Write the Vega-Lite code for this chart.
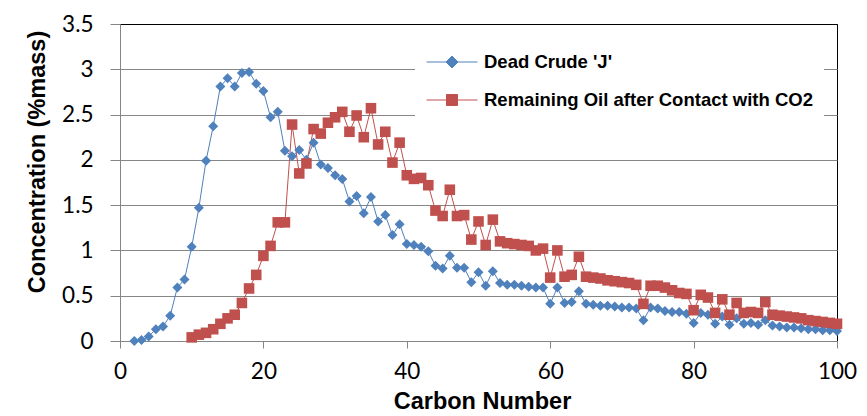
{
  "$schema": "https://vega.github.io/schema/vega-lite/v6.json",
  "width": 717,
  "height": 317,
  "autosize": {"type": "none"},
  "padding": {"left": 120, "top": 24, "right": 30, "bottom": 75},
  "background": "white",
  "config": {
    "view": {"stroke": "black", "strokeWidth": 1},
    "axis": {
      "domainColor": "#868686",
      "tickColor": "#868686",
      "labelColor": "black",
      "labelFont": "Lato",
      "labelFontSize": 22.5,
      "titleFont": "Liberation Sans",
      "titleFontSize": 23.5,
      "titleFontWeight": "bold",
      "titleColor": "black"
    }
  },
  "data": {
    "values": [
      {"c": 2, "s": "Dead Crude 'J'", "v": 0.0},
      {"c": 3, "s": "Dead Crude 'J'", "v": 0.01},
      {"c": 4, "s": "Dead Crude 'J'", "v": 0.05},
      {"c": 5, "s": "Dead Crude 'J'", "v": 0.13},
      {"c": 6, "s": "Dead Crude 'J'", "v": 0.16},
      {"c": 7, "s": "Dead Crude 'J'", "v": 0.28},
      {"c": 8, "s": "Dead Crude 'J'", "v": 0.59},
      {"c": 9, "s": "Dead Crude 'J'", "v": 0.68},
      {"c": 10, "s": "Dead Crude 'J'", "v": 1.04},
      {"c": 11, "s": "Dead Crude 'J'", "v": 1.47},
      {"c": 12, "s": "Dead Crude 'J'", "v": 1.99},
      {"c": 13, "s": "Dead Crude 'J'", "v": 2.37},
      {"c": 14, "s": "Dead Crude 'J'", "v": 2.81},
      {"c": 15, "s": "Dead Crude 'J'", "v": 2.9},
      {"c": 16, "s": "Dead Crude 'J'", "v": 2.81},
      {"c": 17, "s": "Dead Crude 'J'", "v": 2.96},
      {"c": 18, "s": "Dead Crude 'J'", "v": 2.97},
      {"c": 19, "s": "Dead Crude 'J'", "v": 2.84},
      {"c": 20, "s": "Dead Crude 'J'", "v": 2.76},
      {"c": 21, "s": "Dead Crude 'J'", "v": 2.47},
      {"c": 22, "s": "Dead Crude 'J'", "v": 2.53},
      {"c": 23, "s": "Dead Crude 'J'", "v": 2.1},
      {"c": 24, "s": "Dead Crude 'J'", "v": 2.04},
      {"c": 25, "s": "Dead Crude 'J'", "v": 2.11},
      {"c": 26, "s": "Dead Crude 'J'", "v": 2.0},
      {"c": 27, "s": "Dead Crude 'J'", "v": 2.19},
      {"c": 28, "s": "Dead Crude 'J'", "v": 1.95},
      {"c": 29, "s": "Dead Crude 'J'", "v": 1.91},
      {"c": 30, "s": "Dead Crude 'J'", "v": 1.83},
      {"c": 31, "s": "Dead Crude 'J'", "v": 1.79},
      {"c": 32, "s": "Dead Crude 'J'", "v": 1.54},
      {"c": 33, "s": "Dead Crude 'J'", "v": 1.6},
      {"c": 34, "s": "Dead Crude 'J'", "v": 1.41},
      {"c": 35, "s": "Dead Crude 'J'", "v": 1.59},
      {"c": 36, "s": "Dead Crude 'J'", "v": 1.32},
      {"c": 37, "s": "Dead Crude 'J'", "v": 1.39},
      {"c": 38, "s": "Dead Crude 'J'", "v": 1.17},
      {"c": 39, "s": "Dead Crude 'J'", "v": 1.29},
      {"c": 40, "s": "Dead Crude 'J'", "v": 1.07},
      {"c": 41, "s": "Dead Crude 'J'", "v": 1.06},
      {"c": 42, "s": "Dead Crude 'J'", "v": 1.04},
      {"c": 43, "s": "Dead Crude 'J'", "v": 0.99},
      {"c": 44, "s": "Dead Crude 'J'", "v": 0.83},
      {"c": 45, "s": "Dead Crude 'J'", "v": 0.8},
      {"c": 46, "s": "Dead Crude 'J'", "v": 0.94},
      {"c": 47, "s": "Dead Crude 'J'", "v": 0.81},
      {"c": 48, "s": "Dead Crude 'J'", "v": 0.81},
      {"c": 49, "s": "Dead Crude 'J'", "v": 0.65},
      {"c": 50, "s": "Dead Crude 'J'", "v": 0.76},
      {"c": 51, "s": "Dead Crude 'J'", "v": 0.61},
      {"c": 52, "s": "Dead Crude 'J'", "v": 0.77},
      {"c": 53, "s": "Dead Crude 'J'", "v": 0.64},
      {"c": 54, "s": "Dead Crude 'J'", "v": 0.62},
      {"c": 55, "s": "Dead Crude 'J'", "v": 0.62},
      {"c": 56, "s": "Dead Crude 'J'", "v": 0.61},
      {"c": 57, "s": "Dead Crude 'J'", "v": 0.6},
      {"c": 58, "s": "Dead Crude 'J'", "v": 0.59},
      {"c": 59, "s": "Dead Crude 'J'", "v": 0.59},
      {"c": 60, "s": "Dead Crude 'J'", "v": 0.41},
      {"c": 61, "s": "Dead Crude 'J'", "v": 0.59},
      {"c": 62, "s": "Dead Crude 'J'", "v": 0.42},
      {"c": 63, "s": "Dead Crude 'J'", "v": 0.43},
      {"c": 64, "s": "Dead Crude 'J'", "v": 0.55},
      {"c": 65, "s": "Dead Crude 'J'", "v": 0.41},
      {"c": 66, "s": "Dead Crude 'J'", "v": 0.4},
      {"c": 67, "s": "Dead Crude 'J'", "v": 0.39},
      {"c": 68, "s": "Dead Crude 'J'", "v": 0.39},
      {"c": 69, "s": "Dead Crude 'J'", "v": 0.38},
      {"c": 70, "s": "Dead Crude 'J'", "v": 0.37},
      {"c": 71, "s": "Dead Crude 'J'", "v": 0.37},
      {"c": 72, "s": "Dead Crude 'J'", "v": 0.36},
      {"c": 73, "s": "Dead Crude 'J'", "v": 0.23},
      {"c": 74, "s": "Dead Crude 'J'", "v": 0.37},
      {"c": 75, "s": "Dead Crude 'J'", "v": 0.36},
      {"c": 76, "s": "Dead Crude 'J'", "v": 0.33},
      {"c": 77, "s": "Dead Crude 'J'", "v": 0.32},
      {"c": 78, "s": "Dead Crude 'J'", "v": 0.32},
      {"c": 79, "s": "Dead Crude 'J'", "v": 0.3},
      {"c": 80, "s": "Dead Crude 'J'", "v": 0.2},
      {"c": 81, "s": "Dead Crude 'J'", "v": 0.31},
      {"c": 82, "s": "Dead Crude 'J'", "v": 0.29},
      {"c": 83, "s": "Dead Crude 'J'", "v": 0.19},
      {"c": 84, "s": "Dead Crude 'J'", "v": 0.27},
      {"c": 85, "s": "Dead Crude 'J'", "v": 0.18},
      {"c": 86, "s": "Dead Crude 'J'", "v": 0.25},
      {"c": 87, "s": "Dead Crude 'J'", "v": 0.19},
      {"c": 88, "s": "Dead Crude 'J'", "v": 0.2},
      {"c": 89, "s": "Dead Crude 'J'", "v": 0.18},
      {"c": 90, "s": "Dead Crude 'J'", "v": 0.23},
      {"c": 91, "s": "Dead Crude 'J'", "v": 0.17},
      {"c": 92, "s": "Dead Crude 'J'", "v": 0.16},
      {"c": 93, "s": "Dead Crude 'J'", "v": 0.15},
      {"c": 94, "s": "Dead Crude 'J'", "v": 0.15},
      {"c": 95, "s": "Dead Crude 'J'", "v": 0.14},
      {"c": 96, "s": "Dead Crude 'J'", "v": 0.13},
      {"c": 97, "s": "Dead Crude 'J'", "v": 0.13},
      {"c": 98, "s": "Dead Crude 'J'", "v": 0.12},
      {"c": 99, "s": "Dead Crude 'J'", "v": 0.12},
      {"c": 100, "s": "Dead Crude 'J'", "v": 0.11},
      {"c": 10, "s": "Remaining Oil after Contact with CO2", "v": 0.04},
      {"c": 11, "s": "Remaining Oil after Contact with CO2", "v": 0.07},
      {"c": 12, "s": "Remaining Oil after Contact with CO2", "v": 0.09},
      {"c": 13, "s": "Remaining Oil after Contact with CO2", "v": 0.13},
      {"c": 14, "s": "Remaining Oil after Contact with CO2", "v": 0.19},
      {"c": 15, "s": "Remaining Oil after Contact with CO2", "v": 0.25},
      {"c": 16, "s": "Remaining Oil after Contact with CO2", "v": 0.29},
      {"c": 17, "s": "Remaining Oil after Contact with CO2", "v": 0.42},
      {"c": 18, "s": "Remaining Oil after Contact with CO2", "v": 0.58},
      {"c": 19, "s": "Remaining Oil after Contact with CO2", "v": 0.73},
      {"c": 20, "s": "Remaining Oil after Contact with CO2", "v": 0.94},
      {"c": 21, "s": "Remaining Oil after Contact with CO2", "v": 1.05},
      {"c": 22, "s": "Remaining Oil after Contact with CO2", "v": 1.31},
      {"c": 23, "s": "Remaining Oil after Contact with CO2", "v": 1.31},
      {"c": 24, "s": "Remaining Oil after Contact with CO2", "v": 2.39},
      {"c": 25, "s": "Remaining Oil after Contact with CO2", "v": 1.85},
      {"c": 26, "s": "Remaining Oil after Contact with CO2", "v": 1.96},
      {"c": 27, "s": "Remaining Oil after Contact with CO2", "v": 2.34},
      {"c": 28, "s": "Remaining Oil after Contact with CO2", "v": 2.29},
      {"c": 29, "s": "Remaining Oil after Contact with CO2", "v": 2.41},
      {"c": 30, "s": "Remaining Oil after Contact with CO2", "v": 2.47},
      {"c": 31, "s": "Remaining Oil after Contact with CO2", "v": 2.53},
      {"c": 32, "s": "Remaining Oil after Contact with CO2", "v": 2.31},
      {"c": 33, "s": "Remaining Oil after Contact with CO2", "v": 2.49},
      {"c": 34, "s": "Remaining Oil after Contact with CO2", "v": 2.25},
      {"c": 35, "s": "Remaining Oil after Contact with CO2", "v": 2.57},
      {"c": 36, "s": "Remaining Oil after Contact with CO2", "v": 2.17},
      {"c": 37, "s": "Remaining Oil after Contact with CO2", "v": 2.31},
      {"c": 38, "s": "Remaining Oil after Contact with CO2", "v": 1.97},
      {"c": 39, "s": "Remaining Oil after Contact with CO2", "v": 2.19},
      {"c": 40, "s": "Remaining Oil after Contact with CO2", "v": 1.83},
      {"c": 41, "s": "Remaining Oil after Contact with CO2", "v": 1.79},
      {"c": 42, "s": "Remaining Oil after Contact with CO2", "v": 1.8},
      {"c": 43, "s": "Remaining Oil after Contact with CO2", "v": 1.72},
      {"c": 44, "s": "Remaining Oil after Contact with CO2", "v": 1.44},
      {"c": 45, "s": "Remaining Oil after Contact with CO2", "v": 1.38},
      {"c": 46, "s": "Remaining Oil after Contact with CO2", "v": 1.67},
      {"c": 47, "s": "Remaining Oil after Contact with CO2", "v": 1.38},
      {"c": 48, "s": "Remaining Oil after Contact with CO2", "v": 1.39},
      {"c": 49, "s": "Remaining Oil after Contact with CO2", "v": 1.12},
      {"c": 50, "s": "Remaining Oil after Contact with CO2", "v": 1.32},
      {"c": 51, "s": "Remaining Oil after Contact with CO2", "v": 1.06},
      {"c": 52, "s": "Remaining Oil after Contact with CO2", "v": 1.34},
      {"c": 53, "s": "Remaining Oil after Contact with CO2", "v": 1.1},
      {"c": 54, "s": "Remaining Oil after Contact with CO2", "v": 1.08},
      {"c": 55, "s": "Remaining Oil after Contact with CO2", "v": 1.07},
      {"c": 56, "s": "Remaining Oil after Contact with CO2", "v": 1.06},
      {"c": 57, "s": "Remaining Oil after Contact with CO2", "v": 1.05},
      {"c": 58, "s": "Remaining Oil after Contact with CO2", "v": 1.0},
      {"c": 59, "s": "Remaining Oil after Contact with CO2", "v": 1.02},
      {"c": 60, "s": "Remaining Oil after Contact with CO2", "v": 0.7},
      {"c": 61, "s": "Remaining Oil after Contact with CO2", "v": 1.0},
      {"c": 62, "s": "Remaining Oil after Contact with CO2", "v": 0.71},
      {"c": 63, "s": "Remaining Oil after Contact with CO2", "v": 0.73},
      {"c": 64, "s": "Remaining Oil after Contact with CO2", "v": 0.93},
      {"c": 65, "s": "Remaining Oil after Contact with CO2", "v": 0.71},
      {"c": 66, "s": "Remaining Oil after Contact with CO2", "v": 0.7},
      {"c": 67, "s": "Remaining Oil after Contact with CO2", "v": 0.69},
      {"c": 68, "s": "Remaining Oil after Contact with CO2", "v": 0.67},
      {"c": 69, "s": "Remaining Oil after Contact with CO2", "v": 0.66},
      {"c": 70, "s": "Remaining Oil after Contact with CO2", "v": 0.65},
      {"c": 71, "s": "Remaining Oil after Contact with CO2", "v": 0.64},
      {"c": 72, "s": "Remaining Oil after Contact with CO2", "v": 0.62},
      {"c": 73, "s": "Remaining Oil after Contact with CO2", "v": 0.41},
      {"c": 74, "s": "Remaining Oil after Contact with CO2", "v": 0.61},
      {"c": 75, "s": "Remaining Oil after Contact with CO2", "v": 0.61},
      {"c": 76, "s": "Remaining Oil after Contact with CO2", "v": 0.59},
      {"c": 77, "s": "Remaining Oil after Contact with CO2", "v": 0.56},
      {"c": 78, "s": "Remaining Oil after Contact with CO2", "v": 0.53},
      {"c": 79, "s": "Remaining Oil after Contact with CO2", "v": 0.52},
      {"c": 80, "s": "Remaining Oil after Contact with CO2", "v": 0.34},
      {"c": 81, "s": "Remaining Oil after Contact with CO2", "v": 0.51},
      {"c": 82, "s": "Remaining Oil after Contact with CO2", "v": 0.48},
      {"c": 83, "s": "Remaining Oil after Contact with CO2", "v": 0.31},
      {"c": 84, "s": "Remaining Oil after Contact with CO2", "v": 0.46},
      {"c": 85, "s": "Remaining Oil after Contact with CO2", "v": 0.29},
      {"c": 86, "s": "Remaining Oil after Contact with CO2", "v": 0.42},
      {"c": 87, "s": "Remaining Oil after Contact with CO2", "v": 0.31},
      {"c": 88, "s": "Remaining Oil after Contact with CO2", "v": 0.32},
      {"c": 89, "s": "Remaining Oil after Contact with CO2", "v": 0.31},
      {"c": 90, "s": "Remaining Oil after Contact with CO2", "v": 0.43},
      {"c": 91, "s": "Remaining Oil after Contact with CO2", "v": 0.29},
      {"c": 92, "s": "Remaining Oil after Contact with CO2", "v": 0.28},
      {"c": 93, "s": "Remaining Oil after Contact with CO2", "v": 0.27},
      {"c": 94, "s": "Remaining Oil after Contact with CO2", "v": 0.26},
      {"c": 95, "s": "Remaining Oil after Contact with CO2", "v": 0.25},
      {"c": 96, "s": "Remaining Oil after Contact with CO2", "v": 0.23},
      {"c": 97, "s": "Remaining Oil after Contact with CO2", "v": 0.22},
      {"c": 98, "s": "Remaining Oil after Contact with CO2", "v": 0.21},
      {"c": 99, "s": "Remaining Oil after Contact with CO2", "v": 0.2},
      {"c": 100, "s": "Remaining Oil after Contact with CO2", "v": 0.19}
    ]
  },
  "encoding": {
    "x": {
      "field": "c",
      "type": "quantitative",
      "title": "Carbon Number",
      "scale": {"domain": [0, 100], "nice": false, "zero": false},
      "axis": {
        "values": [0, 20, 40, 60, 80, 100],
        "grid": false,
        "tickSize": 7,
        "labelPadding": 12,
        "labelFlush": false,
        "titleX": 362,
        "titleY": 67,
        "titleBaseline": "alphabetic"
      }
    },
    "y": {
      "field": "v",
      "type": "quantitative",
      "title": "Concentration (%mass)",
      "scale": {"domain": [0, 3.5], "nice": false},
      "axis": {
        "values": [0, 0.5, 1, 1.5, 2, 2.5, 3, 3.5],
        "format": "~g",
        "grid": true,
        "gridColor": {"condition": {"test": "datum.value === 3.5", "value": "black"}, "value": "#868686"},
        "gridWidth": 1,
        "tickSize": 10,
        "labelPadding": 17,
        "labelFlush": false,
        "titleAngle": -90,
        "titleX": -82.5,
        "titleY": 137.5,
        "titleAlign": "center",
        "titleBaseline": "middle"
      }
    },
    "color": {
      "field": "s",
      "type": "nominal",
      "scale": {
        "domain": ["Dead Crude 'J'", "Remaining Oil after Contact with CO2"],
        "range": ["#4F81BD", "#C0504D"]
      },
      "legend": {
        "title": null,
        "orient": "none",
        "legendX": 295,
        "legendY": 8,
        "fillColor": "white",
        "padding": 11,
        "rowPadding": 0,
        "clipHeight": 38,
        "labelFont": "Liberation Sans",
        "labelFontSize": 18.5,
        "labelFontWeight": "bold",
        "labelColor": "black",
        "labelOffset": 6,
        "labelLimit": 500,
        "symbolSize": 2601,
        "symbolStrokeWidth": 1,
        "encode": {
          "symbols": {
            "update": {
              "shape": [
                {"test": "datum.value === \"Dead Crude 'J'\"", "value": "M-1,0L1,0M0,-0.235L0.235,0L0,0.235L-0.235,0Z"},
                {"value": "M-1,0L1,0M-0.215,-0.215L0.215,-0.215L0.215,0.215L-0.215,0.215Z"}
              ],
              "fill": {"scale": "color", "field": "value"},
              "stroke": {"scale": "color", "field": "value"},
              "strokeWidth": {"value": 1},
              "opacity": {"value": 1},
              "fillOpacity": {"value": 1},
              "strokeOpacity": {"value": 1},
              "size": {"value": 2601}
            }
          }
        }
      }
    }
  },
  "layer": [
    {
      "mark": {"type": "line", "strokeWidth": 1}
    },
    {
      "transform": [{"filter": "datum.s === \"Dead Crude 'J'\""}],
      "mark": {"type": "point", "filled": true, "opacity": 1, "shape": "diamond", "size": 100}
    },
    {
      "transform": [{"filter": "datum.s !== \"Dead Crude 'J'\""}],
      "mark": {"type": "point", "filled": true, "opacity": 1, "shape": "square", "size": 112}
    }
  ]
}
